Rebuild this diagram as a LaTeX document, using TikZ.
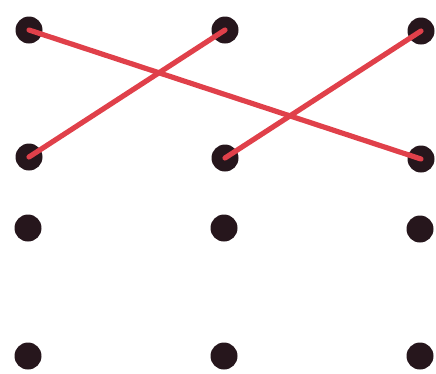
\documentclass[tikz,border=0pt]{standalone}
\definecolor{dotc}{RGB}{38,22,28}
\definecolor{linec}{RGB}{224,64,74}
\begin{document}
\begin{tikzpicture}[x=1pt,y=-1pt,
  pt/.style={circle,fill=dotc,minimum size=27pt,inner sep=0pt},
  seg/.style={linec,line width=5.2pt,line cap=round}]
\useasboundingbox (0,0) rectangle (436,373);
\node[pt] (a1) at (29,30) {};
\node[pt] (a2) at (225,30) {};
\node[pt] (a3) at (421,31) {};
\node[pt] (b1) at (29,157) {};
\node[pt] (b2) at (225,158) {};
\node[pt] (b3) at (421,159) {};
\node[pt] (c1) at (28,228) {};
\node[pt] (c2) at (224,228) {};
\node[pt] (c3) at (420,229) {};
\node[pt] (d1) at (28,356) {};
\node[pt] (d2) at (224,356) {};
\node[pt] (d3) at (420,356) {};
\draw[seg] (a1.center) -- (b3.center);
\draw[seg] (a2.center) -- (b1.center);
\draw[seg] (a3.center) -- (b2.center);
\end{tikzpicture}
\end{document}
